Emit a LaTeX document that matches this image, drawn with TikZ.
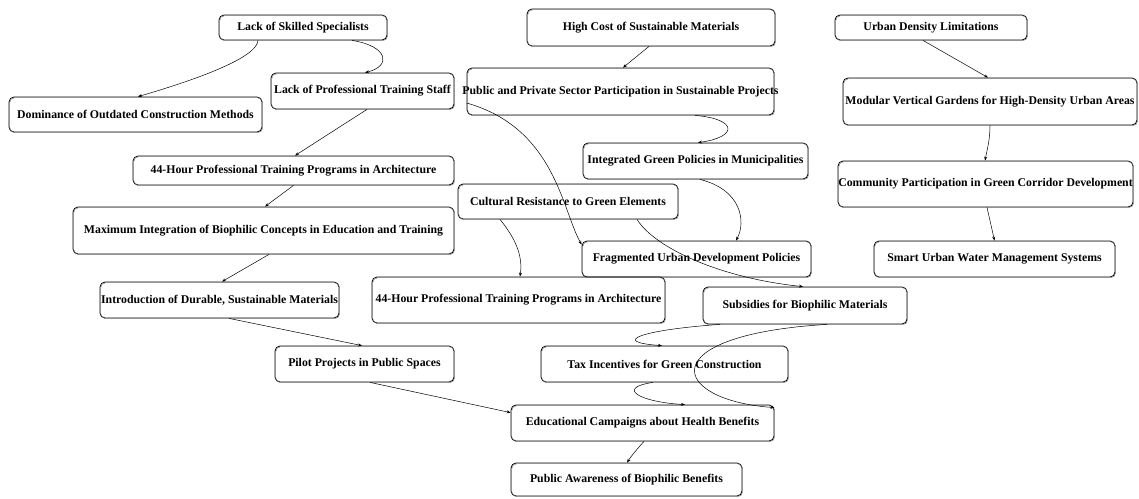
\documentclass[tikz,border=0pt]{standalone}
\usepackage{fontspec}
\setmainfont{Liberation Serif}
\usetikzlibrary{arrows.meta}

\begin{document}
\begin{tikzpicture}[x=1pt, y=-1pt,
    box/.style 2 args={minimum width=#1pt, minimum height=#2pt},
    link/.style={draw, line width=0.5pt, -{Stealth[length=4pt,width=3pt]}}]
\tikzset{every node/.style={shape=rectangle, draw, rounded corners=5pt, line width=0.8pt,
    inner sep=0pt, font=\bfseries\fontsize{11.8}{14}\selectfont,
    execute at begin node={\hbox to 0pt\bgroup\hss},
    execute at end node={\hss\egroup},
    postaction={draw=black!55, line width=0.4pt, transform canvas={xshift=0.7pt,yshift=-0.7pt}}}}
%\tikzset{every node/.style={shape=rectangle,
%                            font=\bfseries \large,
%                            minimum size=1cm
%                           }}
\useasboundingbox (0,0) rectangle (1139,498);

% left column
\node[box={168}{25}] (lss) at (303,27.5) {Lack of Skilled Specialists};
\node[box={253}{35}] (dom) at (135.5,114.5) {Dominance of Outdated Construction Methods};
\node[box={183}{36}] (lpts) at (362.5,91) {Lack of Professional Training Staff};
\node[box={321}{29}] (top44) at (293.5,170.5) {44-Hour Professional Training Programs in Architecture};
\node[box={381}{47}] (maxint) at (263.5,230.5) {Maximum Integration of Biophilic Concepts in Education and Training};
\node[box={239}{36}] (intro) at (219.5,300) {Introduction of Durable, Sustainable Materials};
\node[box={179}{36}] (pilot) at (364.5,364) {Pilot Projects in Public Spaces};

% middle column
\node[box={248}{37}] (cost) at (651,27.5) {High Cost of Sustainable Materials};
\node[box={307}{47}] (ppsp) at (620.5,91.5) {Public and Private Sector Participation in Sustainable Projects};
\node[box={225}{36}] (igp) at (695.5,161) {Integrated Green Policies in Municipalities};
\node[box={220}{35}] (cr) at (568,201.5) {Cultural Resistance to Green Elements};
\node[box={229}{36}] (fudp) at (696.5,259) {Fragmented Urban Development Policies};
\node[box={293}{46}] (mid44) at (518.5,300) {44-Hour Professional Training Programs in Architecture};
\node[box={204}{37}] (subs) at (805,305.5) {Subsidies for Biophilic Materials};
\node[box={247}{36}] (tax) at (664.5,364) {Tax Incentives for Green Construction};
\node[box={263}{36}] (edu) at (642.5,423) {Educational Campaigns about Health Benefits};
\node[box={231}{33}] (pa) at (626.5,479.5) {Public Awareness of Biophilic Benefits};

% right column
\node[box={192}{25}] (udl) at (931,27.5) {Urban Density Limitations};
\node[box={294}{47}] (mvg) at (990,101.5) {Modular Vertical Gardens for High-Density Urban Areas};
\node[box={295}{46}] (cpgc) at (985.5,184) {Community Participation in Green Corridor Development};
\node[box={241}{36}] (suwms) at (994.5,259) {Smart Urban Water Management Systems};

% connectors
\path[link] ([xshift=-45pt]lss.south) .. controls (257,58) and (195,80) .. ([xshift=2.5pt]dom.north);
\path[link] ([xshift=49pt]lss.south) .. controls (388,46) and (392,66) .. ([xshift=2.5pt]lpts.north);
\path[link] ([xshift=4.5pt]lpts.south) -- ([xshift=1.5pt]top44.north);
\path[link] (top44.south) -- ([xshift=1.5pt]maxint.north);
\path[link] ([xshift=5.5pt]maxint.south) -- ([xshift=2.5pt]intro.north);
\path[link] ([xshift=9.5pt]intro.south) -- ([xshift=-2.5pt]pilot.north);
\path[link] ([xshift=5.5pt]pilot.south) -- ([yshift=-8pt]edu.north west);
\path[link] ([xshift=-2pt]cost.south) -- ([xshift=2.5pt]ppsp.north);
\path[link] ([xshift=74.5pt]ppsp.south) .. controls (738,119) and (738,137) .. ([xshift=2.5pt]igp.north);
\path[link] ([yshift=-11.5pt]ppsp.west) .. controls (555,128) and (562,210) .. ([yshift=-4pt]fudp.north west);
\path[link] ([xshift=4.5pt]igp.south) .. controls (742,190) and (746,222) .. ([xshift=39.5pt]fudp.north);
\path[link] ([xshift=-68pt]cr.south) .. controls (515,238) and (523,255) .. ([xshift=1.5pt]mid44.north);
\path[link] ([xshift=69pt]cr.south) .. controls (655,248) and (720,278) .. ([xshift=-2pt]subs.north);
\path[link] ([xshift=-8pt]udl.south) -- ([xshift=-2pt]mvg.north);
\path[link] (mvg.south) .. controls (990,140) and (987,150) .. ([xshift=-0.5pt]cpgc.north);
\path[link] ([xshift=1.5pt]cpgc.south) -- (suwms.north);
\path[link] ([xshift=-85pt]subs.south) .. controls (640,330) and (610,342) .. ([xshift=-2.5pt]tax.north);
\path[link] ([xshift=22pt]subs.south) .. controls (650,335) and (670,400) .. ([yshift=-3pt]edu.north east);
\path[link] ([xshift=-11.5pt]tax.south) .. controls (615,388) and (640,402) .. ([xshift=42.5pt]edu.north);
\path[link] ([xshift=1.5pt]edu.south) .. controls (638,448) and (632,455) .. ([xshift=0.5pt]pa.north);
\end{tikzpicture}
\end{document}
